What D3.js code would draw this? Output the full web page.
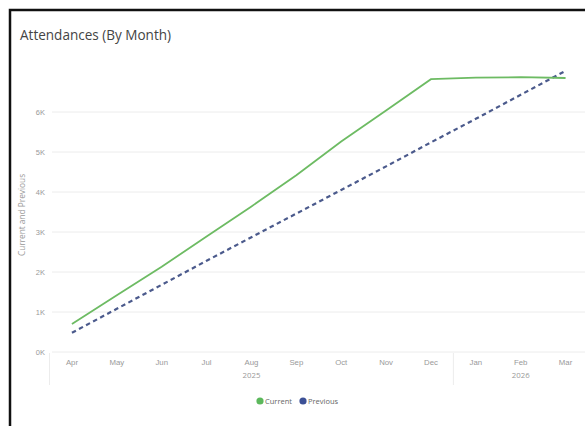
<!DOCTYPE html>
<html>
<head>
<meta charset="utf-8">
<script src="https://cdn.jsdelivr.net/npm/d3@7"></script>
<style>
  html, body { margin: 0; padding: 0; background: #fff; }
  svg { display: block; font-family: "Open Sans", "Noto Sans", sans-serif; }
</style>
</head>
<body>
<svg id="chart" width="585" height="426"></svg>
<script>
const months = ["Apr","May","Jun","Jul","Aug","Sep","Oct","Nov","Dec","Jan","Feb","Mar"];
const years = [{label: "2025", from: "Apr", to: "Dec"}, {label: "2026", from: "Jan", to: "Mar"}];
const current = [700, 1420, 2130, 2890, 3640, 4420, 5260, 6040, 6820, 6860, 6870, 6850];
const previous = [480, 1080, 1680, 2280, 2870, 3460, 4050, 4640, 5240, 5830, 6430, 7030];
const yTicks = [0, 1000, 2000, 3000, 4000, 5000, 6000];
const seriesNames = ["Current", "Previous"];
const colors = {Current: "#6dbb63", Previous: "#4b5a8c"};
const legendColors = {Current: "#5cb85c", Previous: "#3c5096"};

const svg = d3.select("#chart");

// frame
svg.append("rect").attr("x", 10).attr("y", 10).attr("width", 700).attr("height", 600)
  .attr("fill", "none").attr("stroke", "#111").attr("stroke-width", 2.5);

// title
svg.append("text").attr("x", 20).attr("y", 40).text("Attendances (By Month)")
  .attr("font-size", 14.2).attr("fill", "#444").attr("font-family", "'Open Sans', sans-serif")
  .attr("textLength", 151).attr("lengthAdjust", "spacingAndGlyphs");

const x = d3.scaleBand().domain(months).range([49.5, 588]).paddingInner(0).paddingOuter(0);
const y = d3.scaleLinear().domain([0, 7000]).range([352, 72]);
const cx = m => x(m) + x.bandwidth() / 2;

// gridlines
const grid = svg.append("g");
grid.selectAll("line").data(yTicks).join("line")
  .attr("x1", 52).attr("x2", 588)
  .attr("y1", d => y(d)).attr("y2", d => y(d))
  .attr("stroke", "#ececec").attr("stroke-width", 1);

// y axis
const yAxis = d3.axisLeft(y).tickValues(yTicks).tickSize(0).tickPadding(0)
  .tickFormat(d => (d / 1000) + "K");
const yg = svg.append("g").attr("transform", "translate(45,0)").call(yAxis);
yg.select(".domain").remove();
yg.selectAll("text").attr("fill", "#999").attr("font-size", 7.5).attr("dy", "0.32em");

// y title
svg.append("text").attr("transform", "translate(25,215) rotate(-90)")
  .attr("text-anchor", "middle").attr("font-size", 8.3).attr("fill", "#999")
  .text("Current and Previous");

// x axis
const xAxis = d3.axisBottom(x).tickSize(0).tickPadding(0);
const xg = svg.append("g").attr("transform", "translate(0,359)").call(xAxis);
xg.select(".domain").remove();
xg.selectAll("text").attr("fill", "#999").attr("font-size", 7.8).attr("dy", "0.71em");

// year labels and separators
years.forEach(yr => {
  const mid = (cx(yr.from) + cx(yr.to)) / 2;
  svg.append("text").attr("x", mid).attr("y", 378).attr("text-anchor", "middle")
    .attr("font-size", 7.8).attr("fill", "#999").text(yr.label);
  svg.append("line").attr("x1", x(yr.from)).attr("x2", x(yr.from))
    .attr("y1", 353).attr("y2", 385).attr("stroke", "#ececec").attr("stroke-width", 1);
});

// lines
const line = d3.line().x((d, i) => cx(months[i])).y(d => y(d));
svg.append("path").datum(previous).attr("d", line).attr("fill", "none")
  .attr("stroke", colors.Previous).attr("stroke-width", 2.2).attr("stroke-dasharray", "4.5,3.5");
svg.append("path").datum(current).attr("d", line).attr("fill", "none")
  .attr("stroke", colors.Current).attr("stroke-width", 1.8);

// legend
const legend = svg.append("g").attr("transform", "translate(260,401)");
const lx = [0, 43];
seriesNames.forEach((s, i) => {
  const g = legend.append("g").attr("transform", `translate(${lx[i]},0)`);
  g.append("circle").attr("r", 3.6).attr("fill", legendColors[s]);
  g.append("text").attr("x", 5).attr("dy", "0.35em").attr("font-size", 7.5)
    .attr("fill", "#666").text(s);
});
</script>
</body>
</html>
